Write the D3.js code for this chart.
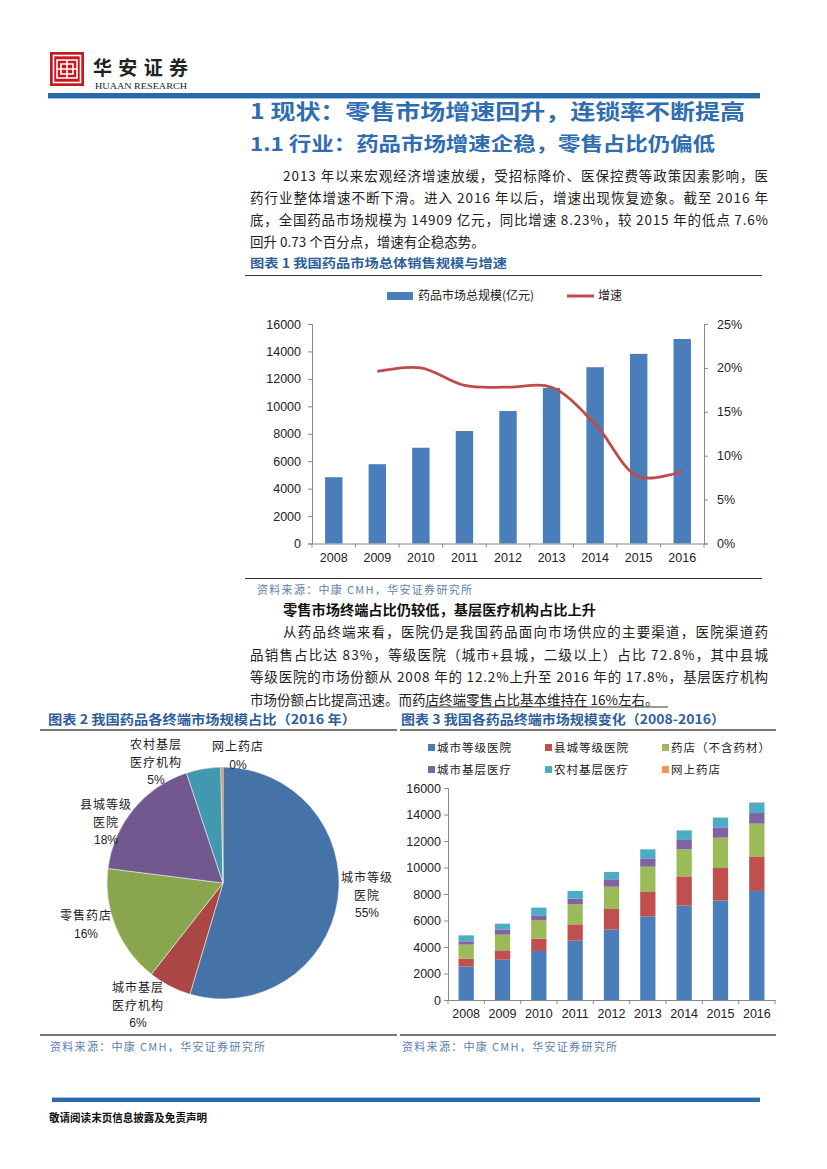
<!DOCTYPE html>
<html><head><meta charset="utf-8">
<script src="https://cdn.jsdelivr.net/npm/d3@7/dist/d3.min.js"></script>
<style>
html,body{margin:0;padding:0;background:#fff;}
svg{display:block;}
text{font-family:"Liberation Sans","Noto Sans CJK SC",sans-serif;}
.cjk{font-family:"Noto Sans CJK SC","Liberation Sans",sans-serif;}
</style></head>
<body>
<svg id="page" width="827" height="1169"></svg>
<script>
// ---------- data ----------
const years = ["2008","2009","2010","2011","2012","2013","2014","2015","2016"];
const marketSize = [4830, 5780, 6980, 8200, 9660, 11340, 12850, 13820, 14909];
const growthRate = [null, 19.6, 20.0, 18.0, 17.8, 17.8, 13.6, 7.6, 8.23];
const leftTicks = [0,2000,4000,6000,8000,10000,12000,14000,16000];
const rightTicks = [0,5,10,15,20,25];

const pieNames = [["城市等级","医院"],["城市基层","医疗机构"],["零售药店"],["县城等级","医院"],["农村基层","医疗机构"],["网上药店"]];
const pieValues = [54.6, 6.0, 16.4, 17.9, 4.8, 0.3];

const stackNames = ["城市等级医院","县城等级医院","药店（不含药材）","城市基层医疗","农村基层医疗","网上药店"];
const cityHospital   = [2520, 3040, 3700, 4480, 5310, 6310, 7120, 7520, 8230];
const countyHospital = [600, 710, 930, 1230, 1560, 1890, 2210, 2440, 2610];
const pharmacy       = [1060, 1180, 1380, 1510, 1680, 1860, 2040, 2290, 2470];
const cityPrimary    = [250, 380, 380, 430, 560, 630, 710, 780, 800];
const ruralPrimary   = [450, 450, 580, 580, 550, 680, 720, 730, 780];
const onlineStore    = [0, 0, 0, 0, 0, 5, 10, 15, 30];

const colors = ["#4a7ebb","#c0504d","#9bbb59","#8064a2","#4bacc6","#f79646"];
const pieColors = ["#4572a7","#aa4643","#89a54e","#71588f","#4198af","#db843d"];

const svg = d3.select("#page");

// ---------- header ----------
const logo = svg.append("g");
logo.append("rect").attr("x",50).attr("y",52).attr("width",34).attr("height",34).attr("fill","#c7161e");
logo.append("rect").attr("x",53.5).attr("y",55.5).attr("width",27).attr("height",27).attr("fill","none").attr("stroke","#fff").attr("stroke-width",1.6);
logo.append("path").attr("d","M57,60H77V78H57Z M57,69H77 M67,60V78 M61,64H73V74H61Z").attr("fill","none").attr("stroke","#fff").attr("stroke-width",1.6);
svg.append("text").attr("class","cjk").attr("x",93).attr("y",75).attr("font-size",19).attr("font-weight","bold")
  .attr("fill","#222").attr("textLength",95).attr("lengthAdjust","spacing").text("华安证券");
svg.append("text").attr("x",95).attr("y",89).attr("font-size",8.5).attr("fill","#222")
  .style("font-family","Liberation Serif").attr("textLength",92).attr("lengthAdjust","spacingAndGlyphs").text("HUAAN RESEARCH");
svg.append("rect").attr("x",48).attr("y",93).attr("width",712).attr("height",5).attr("fill","#2a6aa8");
svg.append("rect").attr("x",48).attr("y",98).attr("width",712).attr("height",1).attr("fill","#9cc3e6");

// headings
const headBlue = "#2f6cb0";
svg.append("text").attr("class","cjk").attr("x",250).attr("y",119).attr("font-size",21).attr("font-weight","bold")
  .attr("fill",headBlue).attr("textLength",495).attr("lengthAdjust","spacingAndGlyphs").text("1 现状：零售市场增速回升，连锁率不断提高");
svg.append("text").attr("class","cjk").attr("x",250).attr("y",151).attr("font-size",19).attr("font-weight","bold")
  .attr("fill",headBlue).attr("textLength",465).attr("lengthAdjust","spacingAndGlyphs").text("1.1 行业：药品市场增速企稳，零售占比仍偏低");

// paragraph 1
const para1 = [
  {x:283, w:485, t:"2013 年以来宏观经济增速放缓，受招标降价、医保控费等政策因素影响，医"},
  {x:250, w:518, t:"药行业整体增速不断下滑。进入 2016 年以后，增速出现恢复迹象。截至 2016 年"},
  {x:250, w:518, t:"底，全国药品市场规模为 14909 亿元，同比增速 8.23%，较 2015 年的低点 7.6%"},
  {x:250, w:0,   t:"回升 0.73 个百分点，增速有企稳态势。"}
];
para1.forEach((l,i)=>{
  const t = svg.append("text").attr("class","cjk").attr("x",l.x).attr("y",181+i*22).attr("font-size",13.5).attr("fill","#222").text(l.t);
  if(l.w) t.attr("textLength",l.w).attr("lengthAdjust","spacing");
});

// ---------- figure 1 ----------
const figBlue = "#2f5f98";
svg.append("text").attr("class","cjk").attr("x",250).attr("y",268).attr("font-size",12.5).attr("font-weight","bold")
  .attr("fill",figBlue).attr("textLength",257).attr("lengthAdjust","spacingAndGlyphs").text("图表 1 我国药品市场总体销售规模与增速");
svg.append("line").attr("x1",245).attr("x2",762).attr("y1",275.5).attr("y2",275.5).attr("stroke","#333").attr("stroke-width",1);
svg.append("line").attr("x1",245).attr("x2",762).attr("y1",578.5).attr("y2",578.5).attr("stroke","#333").attr("stroke-width",1);

const c1 = {l:312, r:704, t:324, b:543.5};
const x1 = d3.scaleBand().domain(years).range([c1.l,c1.r]).paddingInner(0.6).paddingOuter(0.3);
const xb1 = d3.scaleBand().domain(years).range([c1.l,c1.r]);
const y1 = d3.scaleLinear().domain([0,16000]).range([c1.b,c1.t]);
const y1r = d3.scaleLinear().domain([0,25]).range([c1.b,c1.t]);

svg.append("g").selectAll("rect").data(marketSize).join("rect")
  .attr("x",(d,i)=>x1(years[i])).attr("width",x1.bandwidth())
  .attr("y",d=>y1(d)).attr("height",d=>c1.b-y1(d)).attr("fill",colors[0]);

const axisCol = "#888";
const gl = svg.append("g").attr("transform",`translate(${c1.l},0)`)
  .call(d3.axisLeft(y1).tickValues(leftTicks).tickSize(4).tickPadding(7).tickFormat(d3.format("d")));
const gr = svg.append("g").attr("transform",`translate(${c1.r},0)`)
  .call(d3.axisRight(y1r).tickValues(rightTicks).tickSize(4).tickPadding(9).tickFormat(d=>d+"%"));
const gb = svg.append("g").attr("transform",`translate(0,${c1.b})`)
  .call(d3.axisBottom(xb1).tickSize(0).tickPadding(10));
svg.append("g").selectAll("line").data(d3.range(years.length+1)).join("line")
  .attr("x1",i=>c1.l+i*xb1.step()).attr("x2",i=>c1.l+i*xb1.step())
  .attr("y1",c1.b).attr("y2",c1.b+4).attr("stroke",axisCol);
[gl,gr,gb].forEach(g=>{
  g.selectAll(".domain").attr("stroke",axisCol);
  g.selectAll(".tick line").attr("stroke",axisCol);
  g.selectAll("text").attr("font-size",12.5).attr("fill","#222").style("font-family","Liberation Sans");
});

const lineGen = d3.line().defined(d=>d!=null)
  .x((d,i)=>xb1(years[i])+xb1.bandwidth()/2).y(d=>y1r(d)).curve(d3.curveCatmullRom.alpha(0.5));
svg.append("path").datum(growthRate).attr("d",lineGen).attr("fill","none").attr("stroke","#be4b48").attr("stroke-width",2.8);

// legend 1
svg.append("rect").attr("x",387).attr("y",292).attr("width",26).attr("height",8).attr("fill",colors[0]);
svg.append("text").attr("class","cjk").attr("x",418).attr("y",300).attr("font-size",12).attr("fill","#222").text("药品市场总规模(亿元)");
svg.append("line").attr("x1",567).attr("x2",594).attr("y1",296).attr("y2",296).attr("stroke","#be4b48").attr("stroke-width",3);
svg.append("text").attr("class","cjk").attr("x",598).attr("y",300).attr("font-size",12).attr("fill","#222").text("增速");

const srcBlue = "#5b80ad";
function source(x,y){
  svg.append("text").attr("class","cjk").attr("x",x).attr("y",y).attr("font-size",11).attr("fill",srcBlue)
    .attr("textLength",215).attr("lengthAdjust","spacing").text("资料来源：中康 CMH，华安证券研究所");
}
source(257,594);

// paragraph 2
svg.append("text").attr("class","cjk").attr("x",283).attr("y",615).attr("font-size",13.5).attr("font-weight","bold").attr("fill","#111")
  .attr("textLength",313).attr("lengthAdjust","spacingAndGlyphs").text("零售市场终端占比仍较低，基层医疗机构占比上升");
const para2 = [
  {x:283, w:485, t:"从药品终端来看，医院仍是我国药品面向市场供应的主要渠道，医院渠道药"},
  {x:250, w:518, t:"品销售占比达 83%，等级医院（城市+县城，二级以上）占比 72.8%，其中县城"},
  {x:250, w:518, t:"等级医院的市场份额从 2008 年的 12.2%上升至 2016 年的 17.8%，基层医疗机构"},
  {x:250, w:0,   t:"市场份额占比提高迅速。而药店终端零售占比基本维持在 16%左右。"}
];
para2.forEach((l,i)=>{
  const t = svg.append("text").attr("class","cjk").attr("x",l.x).attr("y",637+i*22.5).attr("font-size",13.5).attr("fill","#222").text(l.t);
  if(l.w) t.attr("textLength",l.w).attr("lengthAdjust","spacing");
});
svg.append("line").attr("x1",425).attr("x2",668).attr("y1",707).attr("y2",707).attr("stroke","#333").attr("stroke-width",1);

// ---------- figure 2 (pie) ----------
svg.append("text").attr("class","cjk").attr("x",48).attr("y",724).attr("font-size",13).attr("font-weight","bold")
  .attr("fill",figBlue).attr("textLength",308).attr("lengthAdjust","spacingAndGlyphs").text("图表 2 我国药品各终端市场规模占比（2016 年）");
svg.append("text").attr("class","cjk").attr("x",401).attr("y",724).attr("font-size",13).attr("font-weight","bold")
  .attr("fill",figBlue).attr("textLength",324).attr("lengthAdjust","spacingAndGlyphs").text("图表 3 我国各药品终端市场规模变化（2008-2016）");
[[40,397],[400,776]].forEach(([a,b])=>{
  svg.append("line").attr("x1",a).attr("x2",b).attr("y1",730).attr("y2",730).attr("stroke","#777").attr("stroke-width",2);
  svg.append("line").attr("x1",a).attr("x2",b).attr("y1",1035).attr("y2",1035).attr("stroke","#777").attr("stroke-width",2);
});
source(50,1051);
source(402,1051);

const pc = {x:223, y:883, r:116};
const pie = d3.pie().sort(null).value(d=>d)(pieValues);
const arc = d3.arc().innerRadius(0).outerRadius(pc.r);
svg.append("g").attr("transform",`translate(${pc.x},${pc.y})`).selectAll("path").data(pie).join("path")
  .attr("d",arc).attr("fill",(d,i)=>pieColors[i]).attr("stroke","#fff").attr("stroke-width",0.5);

const pieLabelPos = [[367,878],[138,988],[86,916],[106,805],[156,745],[238,747]];
pie.forEach((p,i)=>{
  const [lx,ly] = pieLabelPos[i];
  const lines = pieNames[i].concat([Math.round(p.data)+"%"]);
  const g = svg.append("text").attr("text-anchor","middle").attr("font-size",12).attr("fill","#222");
  lines.forEach((s,j)=>{
    g.append("tspan").attr("x",lx).attr("y",ly+4+j*17.5).text(s)
      .style("font-family", j===lines.length-1 ? "Liberation Sans" : "Noto Sans CJK SC")
      .style("letter-spacing", j===lines.length-1 ? "0px" : "1px");
  });
});

// ---------- figure 3 (stacked) ----------
const c3 = {l:448, r:775, t:788, b:1000};
const stackRows = years.map((y,i)=>({year:y, s0:cityHospital[i], s1:countyHospital[i], s2:pharmacy[i], s3:cityPrimary[i], s4:ruralPrimary[i], s5:onlineStore[i]}));
const keys = ["s0","s1","s2","s3","s4","s5"];
const stacked = d3.stack().keys(keys)(stackRows);
const x3 = d3.scaleBand().domain(years).range([c3.l,c3.r]).paddingInner(0.58).paddingOuter(0.29);
const xb3 = d3.scaleBand().domain(years).range([c3.l,c3.r]);
const y3 = d3.scaleLinear().domain([0,16000]).range([c3.b,c3.t]);
svg.append("g").selectAll("g").data(stacked).join("g").attr("fill",(d,i)=>colors[i])
  .selectAll("rect").data(d=>d).join("rect")
  .attr("x",d=>x3(d.data.year)).attr("width",x3.bandwidth())
  .attr("y",d=>y3(d[1])).attr("height",d=>y3(d[0])-y3(d[1]));
const g3l = svg.append("g").attr("transform",`translate(${c3.l},0)`)
  .call(d3.axisLeft(y3).tickValues(leftTicks).tickSize(4).tickPadding(3).tickFormat(d3.format("d")));
const g3b = svg.append("g").attr("transform",`translate(0,${c3.b})`)
  .call(d3.axisBottom(xb3).tickSize(0).tickPadding(9));
svg.append("g").selectAll("line").data(d3.range(years.length+1)).join("line")
  .attr("x1",i=>c3.l+i*xb3.step()).attr("x2",i=>c3.l+i*xb3.step())
  .attr("y1",c3.b).attr("y2",c3.b+4).attr("stroke",axisCol);
[g3l,g3b].forEach(g=>{
  g.selectAll(".domain").attr("stroke",axisCol);
  g.selectAll(".tick line").attr("stroke",axisCol);
  g.selectAll("text").attr("font-size",12.5).attr("fill","#222").style("font-family","Liberation Sans");
});

// legend 3
const legPos = [[432,748],[549,748],[666,748],[432,770],[549,770],[666,770]];
stackNames.forEach((n,i)=>{
  const [lx,ly] = legPos[i];
  svg.append("rect").attr("x",lx-4).attr("y",ly-4).attr("width",7).attr("height",7).attr("fill",colors[i]);
  svg.append("text").attr("class","cjk").attr("x",lx+5).attr("y",ly+4).attr("font-size",11.5).attr("fill","#222")
    .style("letter-spacing","1px").text(n);
});

// ---------- footer ----------
svg.append("rect").attr("x",52).attr("y",1098).attr("width",708).attr("height",4).attr("fill","#2a6aa8");
svg.append("rect").attr("x",52).attr("y",1097).attr("width",708).attr("height",1).attr("fill","#9cc3e6");
svg.append("text").attr("class","cjk").attr("x",49).attr("y",1122).attr("font-size",11).attr("font-weight","bold").attr("fill","#111")
  .attr("textLength",158).attr("lengthAdjust","spacingAndGlyphs").text("敬请阅读末页信息披露及免责声明");
</script>
</body></html>
